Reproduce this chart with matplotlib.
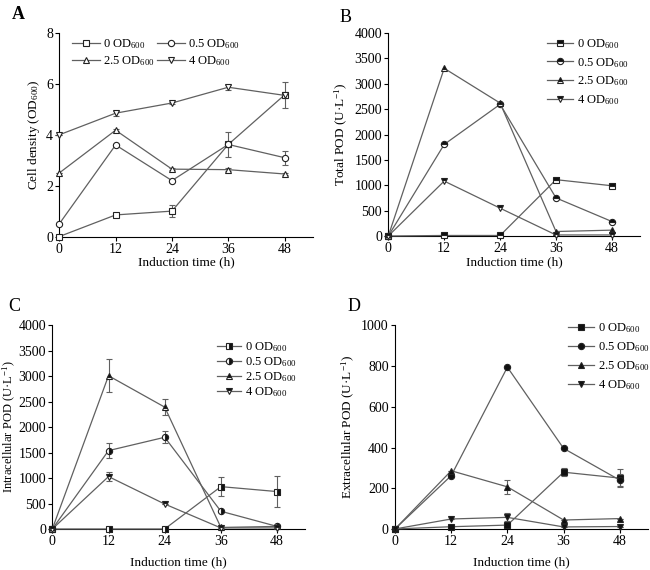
import matplotlib
matplotlib.use('Agg')
import matplotlib.pyplot as plt

plt.rcParams['font.family'] = ['Liberation Serif', 'DejaVu Serif']
plt.rcParams['mathtext.fontset'] = 'custom'
plt.rcParams['mathtext.rm'] = 'Liberation Serif'
plt.rcParams['mathtext.it'] = 'Liberation Serif:italic'
plt.rcParams['font.size'] = 10

# Data
time_h = [0, 12, 24, 36, 48]
labels = ['0 OD$_{\\mathrm{600}}$', '0.5 OD$_{\\mathrm{600}}$',
          '2.5 OD$_{\\mathrm{600}}$', '4 OD$_{\\mathrm{600}}$']

# A: cell density
density = [[0, 0.85, 1.0, 3.62, 5.57],
           [0.5, 3.6, 2.2, 3.62, 3.1],
           [2.5, 4.18, 2.65, 2.63, 2.46],
           [4.0, 4.85, 5.25, 5.87, 5.55]]
density_err = [[0, 0.05, 0.23, 0.5, 0.5],
               [0, 0.05, 0.05, 0.1, 0.28],
               [0, 0.05, 0.05, 0.05, 0.05],
               [0, 0.1, 0.05, 0.1, 0.1]]

# B: total POD
total_pod = [[0, 10, 10, 1110, 990],
             [0, 1805, 2595, 750, 285],
             [0, 3305, 2620, 88, 115],
             [0, 1082, 548, 20, 20]]

# C: intracellular POD
intra_pod = [[0, 0, 0, 832, 735],
             [0, 1540, 1802, 348, 50],
             [0, 3012, 2395, 30, 50],
             [0, 1030, 490, 20, 20]]
intra_err = [[0, 0, 0, 180, 310],
             [0, 140, 120, 0, 0],
             [0, 320, 160, 0, 0],
             [0, 80, 0, 0, 0]]

# D: extracellular POD
extra_pod = [[0, 11, 19, 279, 250],
             [0, 262, 795, 396, 240],
             [0, 286, 207, 44, 51],
             [0, 49, 57, 10, 12]]
extra_err = [[0, 0, 0, 20, 45],
             [0, 0, 0, 0, 30],
             [0, 0, 33, 0, 0],
             [0, 0, 20, 0, 0]]

markers = ['s', 'o', '^', 'v']
line_col = '#606060'

fig = plt.figure(figsize=(6.5, 5.7), dpi=100)
axA = fig.add_axes([0.0912, 0.585, 0.390, 0.357])
axB = fig.add_axes([0.5974, 0.586, 0.387, 0.356])
axC = fig.add_axes([0.0805, 0.072, 0.389, 0.357])
axD = fig.add_axes([0.6077, 0.072, 0.389, 0.357])


def style(ax, ymax, yticks, ylabel, xpad, ypad=3, yfs=9.5):
    ax.set_xlim(0, 54)
    ax.set_ylim(0, ymax)
    ax.set_xticks(time_h)
    ax.set_yticks(yticks)
    ax.spines['top'].set_visible(False)
    ax.spines['right'].set_visible(False)
    ax.spines['left'].set_linewidth(0.8)
    ax.spines['bottom'].set_linewidth(0.8)
    ax.tick_params(direction='out', length=3, width=0.8, labelsize=10, pad=1.5)
    ax.set_xlabel('Induction time (h)', fontsize=9.5, labelpad=xpad)
    ax.set_ylabel(ylabel, fontsize=yfs, labelpad=ypad)


def draw(ax, series, errs, fills, mfc):
    for i in range(4):
        if errs is not None:
            ax.errorbar(time_h, series[i], yerr=errs[i], fmt='none',
                        ecolor=line_col, elinewidth=0.8, capsize=2,
                        capthick=0.8, clip_on=False, zorder=2)
        ax.plot(time_h, series[i], color=line_col, lw=0.9,
                marker=markers[i], ms=4.5, mec='#222222', mew=0.8,
                fillstyle=fills[i], mfc=mfc, mfcalt='white',
                label=labels[i], clip_on=False, zorder=3)


def legend(ax, anchor, spacing, hlen, ncol=1, order=(0, 1, 2, 3)):
    h, l = ax.get_legend_handles_labels()
    ax.legend([h[k] for k in order], [l[k] for k in order],
              loc='upper left', bbox_to_anchor=anchor,
              bbox_transform=fig.transFigure, ncol=ncol, frameon=False,
              fontsize=9, handlelength=hlen, handletextpad=0.3,
              columnspacing=0.15, labelspacing=spacing,
              borderaxespad=0.0, borderpad=0.0)


# A
draw(axA, density, density_err, ['full'] * 4, 'white')
style(axA, 8, [0, 2, 4, 6, 8], 'Cell density (OD$_{\\mathrm{600}}$)', 0.5)
legend(axA, (0.111, 0.935), 0.25, 2.2, ncol=2, order=(0, 2, 1, 3))

# B
draw(axB, total_pod, None, ['top'] * 4, '#111111')
style(axB, 4000, range(0, 4001, 500), 'Total POD (U·L$^{-1}$)', 0.5)
legend(axB, (0.8415, 0.935), 0.4, 2.1)

# C
draw(axC, intra_pod, intra_err, ['right', 'right', 'top', 'top'], '#111111')
style(axC, 4000, range(0, 4001, 500), 'Intracellular POD (U·L$^{-1}$)', 6,
      ypad=0.5, yfs=9)
legend(axC, (0.334, 0.403), 0.1, 1.9)

# D
draw(axD, extra_pod, extra_err, ['full'] * 4, '#111111')
style(axD, 1000, range(0, 1001, 200), 'Extracellular POD (U·L$^{-1}$)', 6)
legend(axD, (0.874, 0.436), 0.4, 2.1)

fig.text(0.018, 0.99, 'A', fontsize=13, fontweight='bold', va='top')
fig.text(0.522, 0.985, 'B', fontsize=13, va='top')
fig.text(0.012, 0.478, 'C', fontsize=13, va='top')
fig.text(0.535, 0.478, 'D', fontsize=13, va='top')

fig.savefig('out.png', dpi=100)
